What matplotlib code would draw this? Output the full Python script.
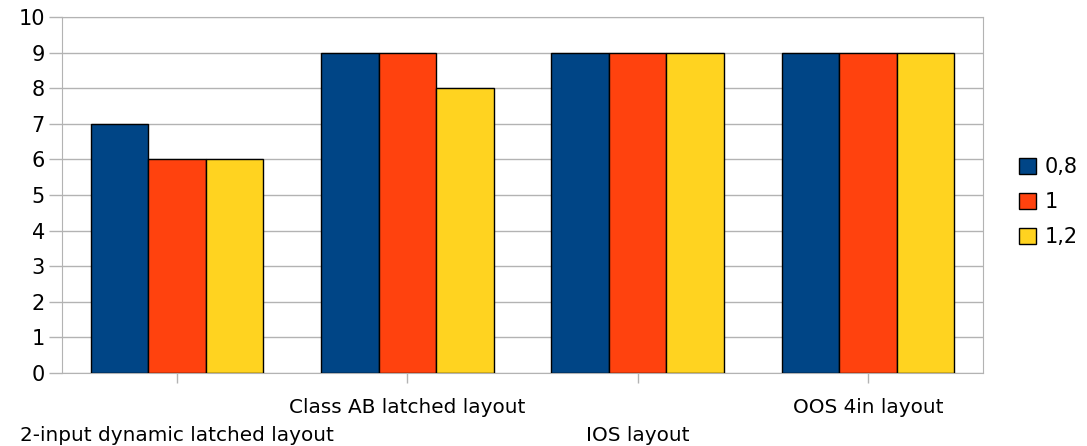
import numpy as np
import matplotlib.pyplot as plt

categories = ['2-input dynamic latched layout', 'Class AB latched layout', 'IOS layout', 'OOS 4in layout']
series = ['0,8', '1', '1,2']
values = [
    [7, 9, 9, 9],
    [6, 9, 9, 9],
    [6, 8, 9, 9],
]
colors = ['#004586', '#ff420e', '#ffd320']

fig = plt.figure(figsize=(10.87, 4.46), dpi=100)
ax = fig.add_axes([62 / 1087, 1 - 373 / 446, (983 - 62) / 1087, (373 - 17) / 446])

x = np.arange(len(categories))
w = 0.25
for i, (name, vals) in enumerate(zip(series, values)):
    ax.bar(x + (i - 1) * w, vals, w, color=colors[i], edgecolor='black', linewidth=1,
           label=name, zorder=3)

ax.set_xlim(-0.5, len(categories) - 0.5)
ax.set_ylim(0, 10)
ax.set_yticks(range(0, 11))
ax.yaxis.grid(True, color='#b3b3b3', linewidth=1, zorder=0)
for s in ax.spines.values():
    s.set_color('#b3b3b3')
ax.tick_params(axis='y', colors='#b3b3b3', length=9.4, width=1, labelcolor='black',
               labelsize=15, pad=3)
ax.tick_params(axis='x', colors='#b3b3b3', length=7.2, width=1, labelcolor='black',
               labelsize=14.4, pad=11)
ax.set_xticks(x)
ax.set_xticklabels(categories)
# stagger labels: every other one on a second row
for t in ax.xaxis.get_major_ticks()[::2]:
    t.set_pad(31)

ax.legend(loc='center left', bbox_to_anchor=(1.03, 0.48), frameon=False, fontsize=15,
          handlelength=0.8, handleheight=0.8, handletextpad=0.45, labelspacing=0.72,
          borderaxespad=0)

fig.savefig('out.png')
